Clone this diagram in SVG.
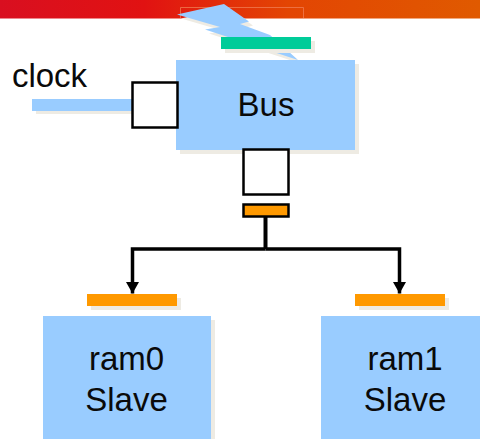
<svg xmlns="http://www.w3.org/2000/svg" width="480" height="439" viewBox="0 0 480 439">
<style>
.b{fill:#99ccff}.o{fill:#ff9900}.s{fill:#eeebe3}.k{fill:#fff;stroke:#000;stroke-width:2.5}
text{font-family:"Liberation Sans",Arial,sans-serif;font-size:33px;fill:#0a0a0a;text-anchor:middle}
.w{fill:none;stroke:#000;stroke-width:3.5}
</style>
<defs>
<linearGradient id="h" x1="0" x2="1" y1="0" y2="0"><stop offset="0" stop-color="#d90f20"/><stop offset=".3" stop-color="#e11212"/><stop offset=".6" stop-color="#e34503"/><stop offset="1" stop-color="#e05a00"/></linearGradient>
<marker id="a" markerUnits="userSpaceOnUse" markerWidth="13" markerHeight="14" refX="11.500" refY="6.500" orient="auto"><path d="M0 0L11.500 6.500L0 13z" fill="#000"/></marker>
<polygon id="bolt" points="177,14.5 224,4 249,21.5 240,24 270,35 298,60 205,29.5 220,27"/>
</defs>
<g id="header"><rect width="480" height="18.5" fill="url(#h)"/><path d="M180.500 18V7.500H303.500V18" fill="none" stroke="#ef7a50" stroke-width="1" opacity=".8"/></g>
<g id="lightning"><use href="#bolt" x="4" y="4" class="s"/><use href="#bolt" class="b"/></g>
<g id="green-bar"><rect x="225" y="41" width="90" height="12" class="s"/><rect x="221" y="37" width="90" height="12" fill="#00cc99"/></g>
<g id="bus"><rect x="180" y="64" width="179" height="90" class="s"/><rect x="176" y="60" width="179" height="90" class="b"/><text x="266" y="116">Bus</text></g>
<g id="clock"><text x="49.500" y="87">clock</text><rect x="36" y="102" width="96" height="12" class="s"/><rect x="32" y="99" width="100" height="12" class="b"/><rect x="132.500" y="82.500" width="45" height="45" class="k"/></g>
<g id="port"><rect x="243.500" y="149.500" width="45" height="45" class="k"/></g>
<g id="master-pin"><rect x="243.500" y="204.500" width="45" height="12" class="o" stroke="#000" stroke-width="2.500"/></g>
<g id="connectors"><path d="M265.500 217V249" fill="none" stroke="#000" stroke-width="4"/><path d="M265.500 249H132.500V293.500" class="w" marker-end="url(#a)"/><path d="M265.500 249H399.500V293.500" class="w" marker-end="url(#a)"/></g>
<g id="ram0"><rect x="91" y="298" width="90" height="12" class="s"/><rect x="87" y="294" width="90" height="12" class="o"/><rect x="47" y="320" width="168" height="123" class="s"/><rect x="43" y="316" width="168" height="123" class="b"/><text x="126.500" y="370">ram0</text><text x="126.500" y="410.500">Slave</text></g>
<g id="ram1"><rect x="359" y="298" width="90" height="12" class="s"/><rect x="355" y="294" width="90" height="12" class="o"/><rect x="325" y="320" width="168" height="123" class="s"/><rect x="321" y="316" width="168" height="123" class="b"/><text x="405" y="370">ram1</text><text x="405" y="410.500">Slave</text></g>
</svg>
